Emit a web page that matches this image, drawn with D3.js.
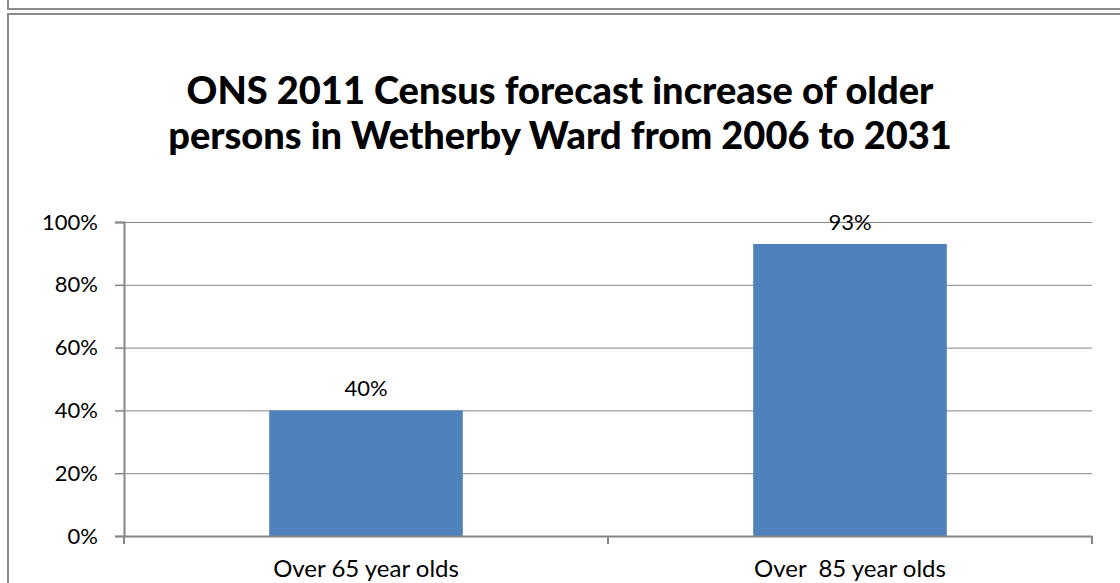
<!DOCTYPE html>
<html>
<head>
<meta charset="utf-8">
<script src="https://cdn.jsdelivr.net/npm/d3@7"></script>
<style>
  body { margin: 0; background: #fff; }
  svg { display: block; font-family: Lato, "Open Sans", sans-serif; }
</style>
</head>
<body>
<div id="chart"></div>
<script>
// Chart data
const categories = ['Over 65 year olds', 'Over  85 year olds'];
const values = [0.40, 0.93];
const valueLabels = ['40%', '93%'];
const yTicks = [0, 0.2, 0.4, 0.6, 0.8, 1.0];
const titleLines = ['ONS 2011 Census forecast increase of older', 'persons in Wetherby Ward from 2006 to 2031'];

const width = 1120;
const height = 583;
const margin = {top: 222, right: 28, bottom: 47, left: 124};

const svg = d3.select('#chart')
  .append('svg')
  .attr('width', width)
  .attr('height', height);

// frame of previous box and this chart box
svg.append('rect')
  .attr('x', 8).attr('y', -20)
  .attr('width', 1130).attr('height', 29)
  .attr('fill', 'none')
  .attr('stroke', '#8c8c8c')
  .attr('stroke-width', 2);
svg.append('rect')
  .attr('x', 8).attr('y', 14)
  .attr('width', 1130).attr('height', 600)
  .attr('fill', 'none')
  .attr('stroke', '#8c8c8c')
  .attr('stroke-width', 2);

// Scales
const y = d3.scaleLinear()
  .domain([0, 1])
  .range([height - margin.bottom, margin.top]);

const x = d3.scaleBand()
  .domain(categories)
  .range([margin.left, width - margin.right])
  .paddingInner(0.6)
  .paddingOuter(0.3);

const xCat = d3.scaleBand()
  .domain(categories)
  .range([margin.left, width - margin.right]);

// Gridlines
svg.append('g')
  .selectAll('line')
  .data(yTicks.slice(1))
  .join('line')
  .attr('x1', margin.left)
  .attr('x2', width - margin.right)
  .attr('y1', d => y(d) + 0.5)
  .attr('y2', d => y(d) + 0.5)
  .attr('stroke', '#868686')
  .attr('stroke-width', 1);

// Bars
svg.append('g')
  .selectAll('rect')
  .data(values)
  .join('rect')
  .attr('x', (d, i) => x(categories[i]))
  .attr('y', d => y(d))
  .attr('width', x.bandwidth())
  .attr('height', d => y(0) - y(d))
  .attr('fill', '#4f81bd');

// Value labels
svg.append('g')
  .selectAll('text')
  .data(values)
  .join('text')
  .attr('x', (d, i) => x(categories[i]) + x.bandwidth() / 2)
  .attr('y', d => y(d) - 14)
  .attr('text-anchor', 'middle')
  .style('font-size', '22px')
  .attr('fill', '#000')
  .text((d, i) => valueLabels[i]);

// Y axis
const yAxis = d3.axisLeft(y)
  .tickValues(yTicks)
  .tickFormat(d3.format('.0%'))
  .tickSize(9)
  .tickPadding(17);
const gy = svg.append('g')
  .attr('transform', `translate(${margin.left},0)`)
  .call(yAxis);
gy.select('.domain').attr('stroke', '#868686').attr('stroke-width', 2);
gy.selectAll('.tick line').attr('stroke', '#868686').attr('stroke-width', 1.5);
gy.selectAll('.tick text')
  .style('font-size', '22px')
  .style('font-family', 'Lato, sans-serif')
  .attr('fill', '#000');

// X axis
const gx = svg.append('g')
  .attr('transform', `translate(0,${y(0)})`)
  .call(d3.axisBottom(xCat).tickSize(0).tickPadding(24));
gx.select('.domain').attr('stroke', '#868686').attr('stroke-width', 2);
gx.selectAll('.tick text')
  .style('font-size', '24px')
  .style('font-family', 'Lato, sans-serif')
  .style('white-space', 'pre')
  .attr('fill', '#000');

// category separator ticks
const sep = [margin.left, width - margin.right].concat(categories.slice(1).map(c => xCat(c)));
svg.append('g')
  .selectAll('line')
  .data(sep)
  .join('line')
  .attr('x1', d => d)
  .attr('x2', d => d)
  .attr('y1', y(0))
  .attr('y2', y(0) + 8)
  .attr('stroke', '#868686')
  .attr('stroke-width', 2);

// Title
svg.append('g')
  .selectAll('text')
  .data(titleLines)
  .join('text')
  .attr('x', 560)
  .attr('y', (d, i) => 104 + i * 45)
  .attr('text-anchor', 'middle')
  .style('font-size', '38px')
  .style('font-weight', '900')
  .attr('fill', '#000')
  .text(d => d);
</script>
</body>
</html>
